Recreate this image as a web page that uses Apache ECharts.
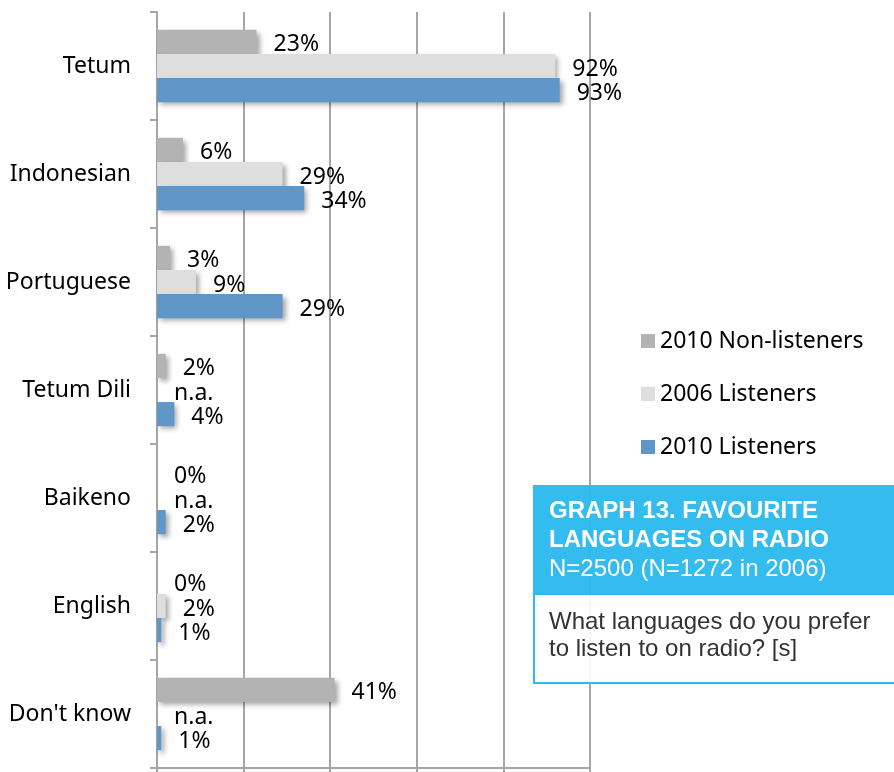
<!DOCTYPE html>
<html>
<head>
<meta charset="utf-8">
<script src="https://cdn.jsdelivr.net/npm/echarts@6/dist/echarts.min.js"></script>
<style>
  html, body { margin: 0; padding: 0; background: #fff; }
  #chart { width: 894px; height: 772px; }
</style>
</head>
<body>
<div id="chart"></div>
<script>
var categories = ['Tetum', 'Indonesian', 'Portuguese', 'Tetum Dili', 'Baikeno', 'English', "Don't know"];
var nonListeners2010 = [23, 6, 3, 2, 0, 0, 41];
var listeners2006 = [92, 29, 9, null, null, 2, null];
var listeners2010 = [93, 34, 29, 4, 2, 1, 1];
var xTicks = [0, 20, 40, 60, 80, 100];

var font = '"Noto Sans", sans-serif';
var boxFont = '"Liberation Sans", Arial, sans-serif';

function toData(arr) {
    return arr.map(function (v) {
        return v === null ? { value: 0, na: true } : v;
    });
}

function makeSeries(name, values, color) {
    return {
        name: name,
        type: 'bar',
        barGap: '0%',
        barCategoryGap: '33%',
        data: toData(values),
        itemStyle: {
            color: color,
            shadowColor: 'rgba(0,0,0,0.35)',
            shadowBlur: 5,
            shadowOffsetX: 3,
            shadowOffsetY: 3
        },
        label: {
            show: true,
            position: 'right',
            distance: 17,
            offset: [0, 3],
            color: '#000',
            fontFamily: font,
            fontSize: 23,
            formatter: function (p) {
                return p.data && p.data.na ? 'n.a.' : p.value + '%';
            }
        }
    };
}

var chart = echarts.init(document.getElementById('chart'));
var option = {
    animation: false,
    grid: { left: 157, right: 304, top: 12, bottom: 4, containLabel: false },
    xAxis: {
        type: 'value',
        min: xTicks[0],
        max: xTicks[xTicks.length - 1],
        interval: xTicks[1] - xTicks[0],
        axisLabel: { show: false },
        axisLine: { show: true, lineStyle: { color: '#A6A6A6', width: 2 } },
        axisTick: { show: true, length: 5, lineStyle: { color: '#A6A6A6', width: 2 } },
        splitLine: { show: true, lineStyle: { color: '#A6A6A6', width: 2 } }
    },
    yAxis: {
        type: 'category',
        inverse: true,
        data: categories,
        axisLine: { show: true, lineStyle: { color: '#A6A6A6', width: 2 } },
        axisTick: { show: true, length: 7, lineStyle: { color: '#A6A6A6', width: 2 } },
        axisLabel: { margin: 26, color: '#000', fontFamily: font, fontSize: 23, padding: [6, 0, 0, 0] }
    },
    legend: {
        orient: 'vertical',
        left: 636,
        top: 324,
        itemWidth: 14,
        itemHeight: 14,
        itemGap: 29,
        icon: 'rect',
        itemStyle: { shadowBlur: 0, shadowOffsetX: 0, shadowOffsetY: 0 },
        textStyle: { color: '#000', fontFamily: font, fontSize: 23, lineHeight: 24 },
        data: ['2010 Non-listeners', '2006 Listeners', '2010 Listeners']
    },
    graphic: [
        { type: 'rect', shape: { x: 533, y: 485, width: 361, height: 109 },
          style: { fill: '#2DB9EE', opacity: 0.96 }, z: 10 },
        { type: 'rect', shape: { x: 534, y: 594, width: 362, height: 89 },
          style: { fill: 'rgba(255,255,255,0.92)', stroke: '#2DB9EE', lineWidth: 2 }, z: 10 },
        { type: 'text', x: 549, y: 497, z: 11,
          style: { text: 'GRAPH 13. FAVOURITE\nLANGUAGES ON RADIO', fill: '#fff',
                   font: 'bold 24px ' + boxFont, lineHeight: 29 } },
        { type: 'text', x: 549, y: 557, z: 11,
          style: { text: 'N=2500 (N=1272 in 2006)', fill: '#fff',
                   font: '24px ' + boxFont } },
        { type: 'text', x: 549, y: 609, z: 11,
          style: { text: 'What languages do you prefer\nto listen to on radio? [s]', fill: '#333',
                   font: '24px ' + boxFont, lineHeight: 27 } }
    ],
    series: [
        makeSeries('2010 Non-listeners', nonListeners2010, '#B3B3B3'),
        makeSeries('2006 Listeners', listeners2006, '#DEDEDE'),
        makeSeries('2010 Listeners', listeners2010, '#6096C8')
    ]
};
chart.setOption(option);
</script>
</body>
</html>
